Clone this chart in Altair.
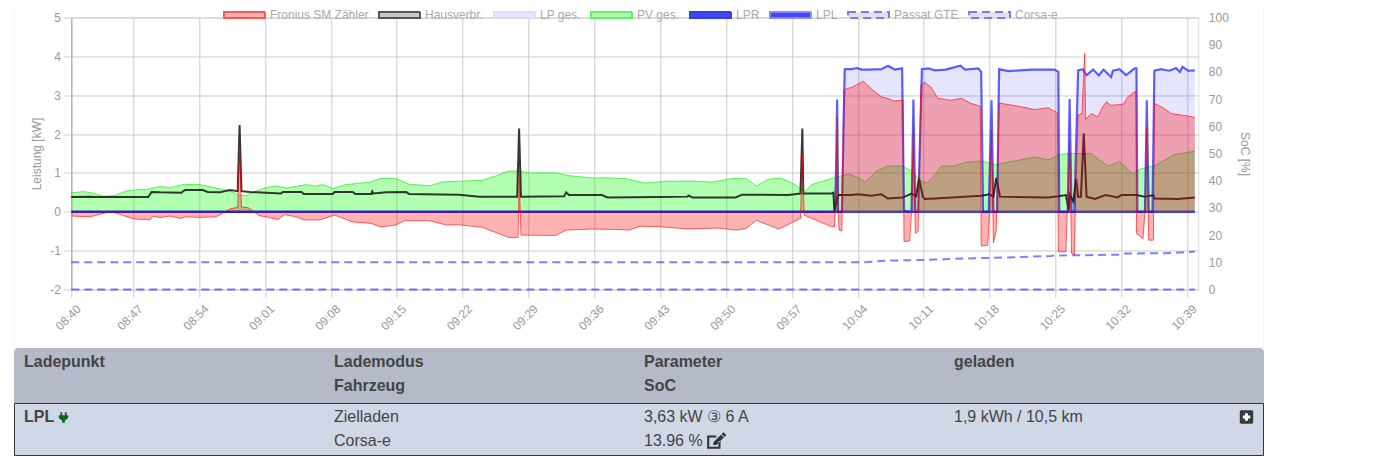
import altair as alt
import pandas as pd

# minutes since 08:40 and kW
pv_t = [0.42,1.7,2.76,3.82,5.06,6.3,7.36,8.42,9.83,10.9,12.3,14.07,15.84,17.25,18.3,19.0,20.1,21.1,22.2,23.3,25.4,26.3,27.1,28.2,29.6,32.1,33.2,34.9,36.3,38.5,39.9,41.6,44.1,45.5,46.9,48.0,49.1,51.9,53.3,55.8,57.2,59.3,61.4,63.6,66.4,68.5,70.6,72.1,73.2,74.5,75.8,77.0,78.4,79.1,81.2,83,83.9,84.8,86.0,87.2,88.7,89.9,90.6,91.3,92.0,92.9,94.3,95.4,97.1,98.6,101.0,102.8,104.2,105.6,106.7,107.0,108.8,109.7,110.6,111.8,113.2,114.1,115.5,117.6,119.8]
pv_v = [.49,.52,.48,.40,.42,.535,.57,.575,.65,.62,.70,.70,.61,.535,.42,.42,.535,.62,.67,.61,.70,.66,.70,.60,.70,.76,.855,.855,.71,.67,.77,.785,.81,.92,1.05,1.05,1.0,1.0,.93,.87,.875,.855,.74,.785,.79,.765,.855,.855,.66,.835,.87,.74,.53,.70,.855,.97,.895,.77,1.05,1.18,1.18,1.02,.81,.74,.895,1.18,1.18,1.27,1.31,1.21,1.325,1.41,1.34,1.48,1.50,1.5,1.5,1.325,1.18,1.29,.98,1.11,1.18,1.47,1.56]

evu_t = [0.42,2.4,4.5,5.24,7,8.77,9.1,9.83,10.9,12.1,12.5,14.07,15.84,17.25,18.1,18.3,18.5,19.2,20.4,21.1,22.4,23.1,24.3,25.2,26.8,28.4,30.3,32.3,33.3,34.9,35.8,38.5,40.2,41.6,44.1,46.9,47.9,48.0,48.2,51.9,53,55.8,58.3,59.7,60.9,62.9,66,69.2,71.1,72.1,73.2,75.6,77.9,78.1,78.3,81.2,81.5,81.6,81.8,81.9,82,82.3,82.5,82.6,83.3,84.6,85.6,86.5,87.4,87.8,88.7,88.8,88.9,89.5,89.7,89.9,90.1,90.4,90.7,91.1,91.8,92.5,93.9,95,96,97,97.1,97.8,98.0,98.2,98.4,98.7,99,101,102.8,104.2,105.2,105.3,106.1,106.5,106.7,107,107.1,107.4,107.8,108.1,108.2,108.8,109.5,110,110.4,110.9,112.2,112.7,113.4,113.55,113.6,114.3,114.5,114.7,114.9,115.4,115.5,116.4,117.3,118.4,119.8]
evu_v = [-.11,-.13,0,-.04,-.18,-.21,-.11,-.15,-.11,-.17,-.13,-.145,-.13,.07,.12,1.67,.12,.11,-.10,-.13,-.20,-.07,-.13,-.21,-.21,-.085,-.26,-.30,-.39,-.34,-.23,-.23,-.335,-.335,-.40,-.66,-.66,1.0,-.60,-.61,-.47,-.445,-.455,-.47,-.37,-.385,-.44,-.42,-.47,-.43,-.22,-.445,-.17,1.5,-.09,-.385,-.39,0,2.44,-.04,-.47,-.49,3.13,3.15,3.2,3.36,3.13,2.96,2.9,2.85,2.87,2.87,-.77,-.75,0,2.23,-.56,-.51,3.26,3.34,3.2,2.92,2.87,2.92,2.79,2.72,-.88,-.86,0,2.1,-.80,-.47,2.8,2.72,2.63,2.68,2.55,-1.03,-1.03,1.84,-1.07,-1.1,0,2.49,2.53,4.07,2.38,2.53,2.44,2.7,2.83,2.74,2.77,2.96,3.09,3.09,-.56,-.69,0,2.19,-.73,-.73,2.79,2.68,2.53,2.49,2.43]

haus_t = [0.42,2.4,3.0,8.6,8.95,9.83,12.1,12.5,14.4,14.9,16.2,17.25,18.1,18.3,18.5,19.4,20.1,22.7,22.9,24.9,25.1,28.2,28.4,30.3,30.6,32.3,32.4,32.5,33.9,36,36.3,41.6,43.8,47.8,48.0,48.2,52.8,53.0,53.3,56.8,57.4,62.9,65.9,66,66.4,71,71.7,76.6,77.9,78.1,78.2,81.2,81.4,81.5,81.9,83.3,84,85.4,86.5,87.2,88.7,89.0,89.7,90.2,90.5,90.9,91.1,92.2,97.1,98,98.4,98.7,99.1,104.2,105.3,106.1,106.4,106.5,106.9,107.2,107.4,107.7,108,108.3,109.2,110.3,111.6,112,113.6,114.5,115.4,115.5,118,119.8]
haus_v = [.38,.39,.38,.38,.51,.50,.49,.56,.56,.51,.50,.56,.53,2.23,.53,.51,.50,.47,.51,.51,.46,.46,.51,.51,.46,.46,.52,.47,.50,.51,.46,.44,.39,.39,2.14,.39,.40,.50,.43,.43,.37,.38,.39,.42,.37,.37,.44,.43,.47,2.14,.47,.47,.49,.03,.43,.43,.45,.41,.45,.34,.37,.39,.47,.40,.86,.39,.33,.34,.41,.45,.39,.87,.39,.37,.40,.43,.04,.45,.26,.84,.39,.39,2.02,.39,.33,.43,.37,.43,.43,.39,.43,.34,.33,.37]

lp_t = [0.42,81.4,81.6,81.8,81.9,82.3,82.6,83.3,83.9,84.4,85.1,86.5,87.2,87.9,88.7,88.9,89.5,89.7,89.9,90.1,90.4,90.8,91.5,92.2,93.3,94.9,95.4,96.8,97.1,97.3,97.9,98.2,98.4,98.8,99,100,102.5,104.9,105.3,105.4,106.3,106.5,106.7,107,107.4,107.9,108.3,109,109.6,110.1,110.9,111.1,111.8,112.5,113.4,113.6,113.7,114.5,114.7,114.9,115.3,115.5,116.2,117.1,117.8,118.2,118.5,119.1,119.8]
lp_v = [0,0,0,2.89,0,0,3.67,3.67,3.70,3.66,3.66,3.67,3.76,3.66,3.69,.03,0,0,2.89,0,0,3.67,3.69,3.64,3.66,3.76,3.66,3.69,3.60,0,0,2.87,0,0,3.67,3.62,3.66,3.66,3.60,0,0,2.90,0,0,3.64,3.67,3.52,3.66,3.51,3.66,3.47,3.63,3.67,3.52,3.69,3.69,0,0,2.87,0,0,3.63,3.67,3.63,3.70,3.60,3.73,3.63,3.64]

lpr_t = [0.42,119.8]
lpr_v = [0,0]

# state of charge in percent
corsa_t = [0.42,84.8,86.9,90.4,92.2,95.4,100,104.5,104.9,107.8,111.6,112.3,117.3,118.4,119.8]
corsa_v = [10,10,10.6,10.8,11.0,11.4,11.8,12.3,12.5,12.6,12.8,13.2,13.4,13.6,13.96]
passat_t = [0.42,119.8]
passat_v = [0,0]

tick_minutes = [0.42,7,14,21,28,35,42,49,56,63,70,77,84,91,98,105,112,119]
y_ticks = [-2,-1,0,1,2,3,4,5]
soc_ticks = [0,10,20,30,40,50,60,70,80,90,100]

legend_names = ["Fronius SM Zähler","Hausverbr.","LP ges.","PV ges.","LPR","LPL","Passat GTE","Corsa-e"]
legend_fill = ["#ffb3b3","#c8c8c8","#e5e5ff","#b3ffb3","#4444ff","#4444ff","#e2e2e2","#e2e2e2"]
legend_stroke = ["#ff5555","#555555","#dcdcf2","#66ee66","#3344dd","#8888ff","#7777ff","#7777ff"]
legend_dash = [[1,0],[1,0],[1,0],[1,0],[1,0],[1,0],[8,5],[8,5]]

head_cols = [("Ladepunkt",""),("Lademodus","Fahrzeug"),("Parameter","SoC"),("geladen","")]
row_cols = [("LPL",""),("Zielladen","Corsa-e"),("3,63 kW ③ 6 A","13.96 %"),("1,9 kWh / 10,5 km","")]

GREY = "#999999"
FONT = "Liberation Sans"
PAD_L, PAD_T = 63.3, 9.5
W, H = 1127, 272
px = lambda x: x - 71.3
py = lambda y: y - 17.5

x_enc = alt.X("t:Q", scale=alt.Scale(domain=[0.42,120.17], nice=False, zero=False), title=None,
              axis=None)
def kw(title=None):
    return alt.Y("v:Q", scale=alt.Scale(domain=[-2,5], nice=False), title=None, axis=None)
def soc():
    return alt.Y("v:Q", scale=alt.Scale(domain=[0,100], nice=False), title=None, axis=None)
def frame(t, v):
    return pd.DataFrame({"t": t, "v": v})
def area(t, v, fill):
    return alt.Chart(frame(t, v)).mark_area(color=fill, interpolate="linear", clip=True).encode(x=x_enc, y=kw())
def line(t, v, color, width, y=None, dash=None):
    kw_args = dict(color=color, strokeWidth=width, interpolate="linear", clip=False)
    if dash:
        kw_args["strokeDash"] = dash
    return alt.Chart(frame(t, v)).mark_line(**kw_args).encode(x=x_enc, y=y or kw())

# axes layer
axis_left = alt.Chart(frame(pv_t[:1], [0])).mark_point(size=0, opacity=0).encode(
    x=alt.X("t:Q", scale=alt.Scale(domain=[0.42,120.17], nice=False, zero=False), title=None,
            axis=alt.Axis(values=tick_minutes, grid=True, gridColor="#cccccc", tickColor="#cccccc", tickSize=8,
                          domain=False, labelAngle=-45, labelAlign="right", labelBaseline="middle",
                          labelColor=GREY, labelFont=FONT, labelFontSize=12, labelPadding=9, labelOffset=7,
                          labelOverlap=False, labelFlush=False, labelBound=False,
                          labelExpr="timeFormat(datetime(2021,0,1,8,40+floor(datum.value)),'%H:%M')")),
    y=alt.Y("v:Q", scale=alt.Scale(domain=[-2,5], nice=False),
            axis=alt.Axis(values=y_ticks, grid=True, gridColor="#cccccc", tickColor="#cccccc", tickSize=8,
                          domain=True, domainColor="#aaaaaa", labelColor=GREY, labelFont=FONT, labelFontSize=12,
                          labelExpr="(datum.value<0?'-':'')+abs(datum.value)",
                          labelPadding=3, title="Leistung [kW]", titleColor=GREY, titleFont=FONT, titleFontSize=12,
                          titleFontWeight="normal", titlePadding=6)))
axis_right = alt.Chart(frame(pv_t[:1], [0])).mark_point(size=0, opacity=0).encode(
    x=x_enc,
    y=alt.Y("v:Q", scale=alt.Scale(domain=[0,100], nice=False),
            axis=alt.Axis(orient="right", values=soc_ticks, grid=False, ticks=False, domain=False, labelColor=GREY,
                          labelFont=FONT, labelFontSize=12, labelPadding=10, title="SoC [%]", titleColor=GREY,
                          titleFont=FONT, titleFontSize=12, titleFontWeight="normal", titlePadding=9)))

# legend layer: real legend from one invisible mark per series
legend_df = pd.DataFrame({"name": legend_names, "t": [1]*8, "v": [0]*8})
leg = alt.Legend(orient="none", legendX=223-71.3, legendY=-24, direction="horizontal", columns=8, gridAlign="none",
                 title=None, symbolType="M-1,-0.15H1V0.15H-1Z", symbolSize=1681, symbolStrokeWidth=2, labelOffset=4,
                 columnPadding=6, padding=0, labelColor="#aaaaaa", labelFont=FONT, labelFontSize=12, symbolOpacity=1)
legend_layer = alt.Chart(legend_df).mark_point(size=0, filled=True, strokeWidth=2).encode(
    x=x_enc, y=kw(),
    fill=alt.Fill("name:N", scale=alt.Scale(domain=legend_names, range=legend_fill), sort=legend_names, legend=leg),
    stroke=alt.Stroke("name:N", scale=alt.Scale(domain=legend_names, range=legend_stroke), sort=legend_names, legend=leg),
    strokeDash=alt.StrokeDash("name:N", scale=alt.Scale(domain=legend_names, range=legend_dash), sort=legend_names, legend=leg))

# table panel
def rect(x0, x1, y0, y1, **mk):
    return alt.Chart(alt.Data(values=[{}])).mark_rect(**mk).encode(
        x=alt.value(px(x0)), x2=alt.value(px(x1)), y=alt.value(py(y0)), y2=alt.value(py(y1)))
def text(s, x, y, weight="normal", color="#444444", size=16):
    return alt.Chart(alt.Data(values=[{}])).mark_text(text=s, align="left", baseline="alphabetic", font=FONT,
                                                       fontSize=size, fontWeight=weight, color=color).encode(
        x=alt.value(px(x)), y=alt.value(py(y)))
def icon(path, x, y, size, color):
    return alt.Chart(alt.Data(values=[{}])).mark_point(shape=path, size=size, filled=True, color=color, opacity=1).encode(
        x=alt.value(px(x)), y=alt.value(py(y)))

table = [
    rect(14.5, 1263.5, 0, 347, fill="transparent", stroke="#f6f6f6", strokeWidth=1),
    rect(14, 1264, 348, 403, fill="#b4bac8", cornerRadiusTopLeft=4, cornerRadiusTopRight=4),
    rect(14.5, 1263.5, 403.5, 455.5, fill="#d0d7e7", stroke="#333333", strokeWidth=1),
]
col_x = [24, 334, 644, 954]
for (a, b), x in zip(head_cols, col_x):
    table.append(text(a, x, 367, "bold"))
    if b:
        table.append(text(b, x, 391, "bold"))
for i, ((a, b), x) in enumerate(zip(row_cols, col_x)):
    table.append(text(a, x, 422, "bold" if i == 0 else "normal"))
    if b:
        table.append(text(b, x, 446))

plug = "M-0.6,-1V-0.45H-0.9V0.1L-0.25,0.6V1H0.25V0.6L0.9,0.1V-0.45H0.6V-1H0.25V-0.45H-0.25V-1Z"
plus = "M-1,-0.8Q-1,-1 -0.8,-1H0.8Q1,-1 1,-0.8V0.8Q1,1 0.8,1H-0.8Q-1,1 -1,0.8Z"
edit = "M-1,-0.6H0.1V-0.35H-0.75V0.75H0.35V0.05H0.6V1H-1ZM-0.25,0.2L-0.25,0.55L0.1,0.55L1,-0.35L0.65,-0.7ZM0.72,-0.77L1.07,-0.42L1.3,-0.65L0.95,-1Z"
table += [
    icon(plug, 63.5, 417.5, 110, "#0a6a1c"),
    icon(edit, 715.5, 440.5, 280, "#333333"),
    icon(plus, 1246.5, 417, 180, "#3a3a3a"),
    alt.Chart(alt.Data(values=[{}])).mark_point(shape="cross", size=55, filled=True, color="#ffffff", opacity=1).encode(
        x=alt.value(px(1246.5)), y=alt.value(py(417))),
]

layers = table + [
    axis_left,
    axis_right,
    legend_layer,
    line(corsa_t, corsa_v, "rgba(0,0,255,0.5)", 2, y=soc(), dash=[8,5]),
    line(passat_t, passat_v, "rgba(0,0,255,0.5)", 2, y=soc(), dash=[8,5]),
    line(lpr_t, lpr_v, "rgba(0,0,200,0.75)", 2.5),
    area(pv_t, pv_v, "rgba(0,255,0,0.3)"),
    line(pv_t, pv_v, "rgba(0,230,0,0.6)", 1),
    area(lp_t, lp_v, "rgba(0,0,255,0.1)"),
    line(lp_t, lp_v, "rgba(0,0,255,0.62)", 2.2),
    line(haus_t, haus_v, "rgba(20,20,20,0.85)", 2),
    area(evu_t, evu_v, "rgba(255,0,0,0.3)"),
    line(evu_t, evu_v, "rgba(255,0,0,0.6)", 1),
]

chart = alt.layer(*layers).resolve_scale(y="independent", fill="shared", stroke="shared", strokeDash="shared").resolve_axis(x="independent").properties(
    width=W, height=H,
    autosize=alt.AutoSizeParams(type="none"),
    padding={"left": PAD_L, "top": PAD_T, "right": 181, "bottom": 166.5},
).configure_view(stroke="#cccccc").configure(background="#ffffff")

chart.save("out.html", embed_options={"renderer": "svg", "actions": False})
